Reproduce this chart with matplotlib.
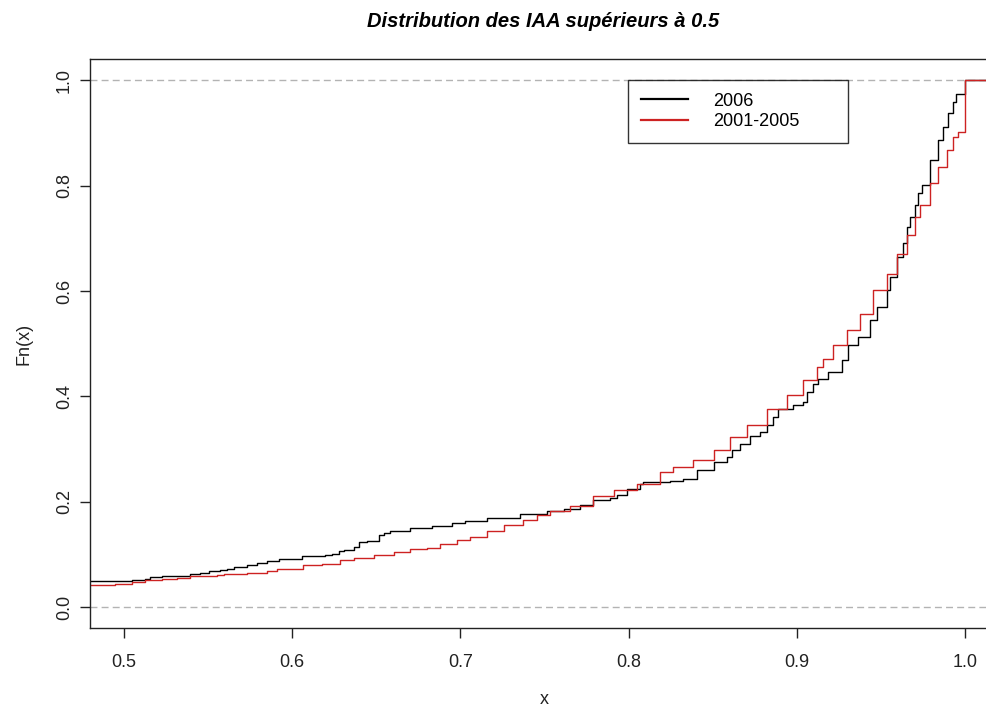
import matplotlib.pyplot as plt

plt.rcParams['font.family'] = ['Liberation Sans', 'DejaVu Sans']

# ECDF breakpoints: x where Fn jumps, Fn value after the jump
x_2006 = [0.48, 0.505, 0.508, 0.5129, 0.5154, 0.5228, 0.5396, 0.5455, 0.5505, 0.5574,
          0.5614, 0.5653, 0.5733, 0.5792, 0.5852, 0.592, 0.6059, 0.6198, 0.6238, 0.6277,
          0.6306, 0.637, 0.6396, 0.6445, 0.6514, 0.6544, 0.6584, 0.6624, 0.6702, 0.6831,
          0.695, 0.7029, 0.7158, 0.7356, 0.7514, 0.7613, 0.7712, 0.7791, 0.789, 0.793,
          0.7989, 0.8068, 0.8088, 0.8246, 0.8325, 0.8405, 0.8504, 0.8583, 0.8613, 0.8662,
          0.8722, 0.8781, 0.8821, 0.886, 0.889, 0.8979, 0.9038, 0.9058, 0.9097, 0.9127,
          0.9185, 0.9266, 0.9305, 0.9365, 0.9434, 0.9474, 0.9533, 0.9553, 0.9593, 0.9632,
          0.9652, 0.9672, 0.9701, 0.9721, 0.9741, 0.979, 0.984, 0.9869, 0.9899, 0.9929,
          0.9945, 1.0, 1.02]
F_2006 = [0.0494, 0.0507, 0.052, 0.0539, 0.057, 0.0596, 0.0621, 0.0646, 0.0678, 0.0697,
          0.0716, 0.0759, 0.0792, 0.0835, 0.0873, 0.091, 0.0963, 0.0982, 0.1014, 0.1063,
          0.109, 0.1139, 0.1234, 0.1253, 0.1361, 0.1413, 0.1437, 0.1451, 0.1508, 0.1532,
          0.1602, 0.1627, 0.1697, 0.176, 0.1823, 0.1868, 0.1931, 0.2026, 0.2077, 0.2134,
          0.2248, 0.233, 0.2373, 0.2387, 0.2438, 0.2595, 0.2753, 0.2848, 0.2975, 0.3102,
          0.3241, 0.3323, 0.345, 0.3607, 0.3767, 0.383, 0.3892, 0.4082, 0.4242, 0.4323,
          0.4456, 0.4684, 0.4969, 0.5126, 0.5443, 0.5696, 0.6013, 0.6265, 0.6645, 0.69,
          0.7215, 0.7405, 0.7627, 0.7849, 0.8006, 0.8481, 0.8861, 0.9113, 0.9368, 0.9588,
          0.9734, 1.0, 1.0]

x_0105 = [0.48, 0.4951, 0.505, 0.5129, 0.5228, 0.5317, 0.5396, 0.5555, 0.5594, 0.5733,
          0.5852, 0.5911, 0.6065, 0.6178, 0.6287, 0.6366, 0.6485, 0.6603, 0.6702, 0.6802,
          0.6881, 0.698, 0.7059, 0.7158, 0.7257, 0.7375, 0.7455, 0.7534, 0.7653, 0.7791,
          0.791, 0.8049, 0.8187, 0.8266, 0.8385, 0.8504, 0.8603, 0.8702, 0.8821, 0.8939,
          0.9038, 0.9118, 0.9157, 0.9216, 0.9296, 0.9375, 0.9454, 0.9533, 0.9593, 0.9652,
          0.9701, 0.9731, 0.979, 0.984, 0.989, 0.9929, 0.9958, 1.0, 1.02]
F_0105 = [0.0425, 0.0444, 0.0475, 0.0507, 0.0539, 0.0558, 0.0583, 0.0602, 0.0621, 0.0646,
          0.0678, 0.0716, 0.0792, 0.0824, 0.09, 0.0938, 0.0982, 0.1044, 0.1096, 0.1128,
          0.119, 0.1266, 0.1329, 0.1443, 0.1551, 0.1646, 0.1741, 0.1823, 0.1912, 0.2102,
          0.2216, 0.2343, 0.2563, 0.2658, 0.2799, 0.2975, 0.3228, 0.345, 0.3767, 0.4019,
          0.4304, 0.4557, 0.4716, 0.4969, 0.5253, 0.557, 0.6013, 0.633, 0.671, 0.7057,
          0.7405, 0.7627, 0.8039, 0.8354, 0.8671, 0.8924, 0.9018, 1.0, 1.0]

labels = ['2006', '2001-2005']
colors = ['black', '#CD2222']

fig = plt.figure(figsize=(9.87, 7.10), dpi=100)
# right part of the R plot region is cut off by the image edge
ax = fig.add_axes([0.09119, 0.11507, 0.92097, 0.80183])

ax.axhline(0, color='#B3B3B3', ls=(0, (5, 3)), lw=1)
ax.axhline(1, color='#B3B3B3', ls=(0, (5, 3)), lw=1)

ax.step(x_2006, F_2006, where='post', color=colors[0], lw=1.0, label=labels[0])
ax.step(x_0105, F_0105, where='post', color=colors[1], lw=1.0, label=labels[1])

ax.set_xlim(0.48, 1.02)
ax.set_ylim(-0.04, 1.04)
ax.set_xticks([0.5, 0.6, 0.7, 0.8, 0.9, 1.0])
ax.set_xticklabels(['0.5', '0.6', '0.7', '0.8', '0.9', '1.0'])
ax.set_yticks([0.0, 0.2, 0.4, 0.6, 0.8, 1.0])
ax.set_yticklabels(['0.0', '0.2', '0.4', '0.6', '0.8', '1.0'], rotation=90, va='center')
ax.tick_params(direction='out', length=7.2, width=1, labelsize=13, colors='#222222')
ax.tick_params(axis='x', pad=11.5)
ax.tick_params(axis='y', pad=5)
for s in ax.spines.values():
    s.set_linewidth(1)
    s.set_color('#222222')
ax.spines['right'].set_visible(False)

ax.set_xlabel('x', fontsize=13, labelpad=14.5, color='#222222')
ax.set_ylabel('Fn(x)', fontsize=13, labelpad=17, color='#222222')
fig.suptitle('Distribution des IAA supérieurs à 0.5', x=0.55, y=0.983,
             fontsize=14.5, fontstyle='italic', fontweight='bold')

leg = ax.legend(loc='upper left', bbox_to_anchor=(0.5919, 0.9631, 0.242, 0), mode='expand',
                fontsize=13, frameon=True, fancybox=False, edgecolor='black',
                handlelength=2.6, borderpad=0.7, labelspacing=0.2, handletextpad=1.4,
                borderaxespad=0)
leg.get_frame().set_linewidth(1)
for l in leg.get_lines():
    l.set_linewidth(1.6)

fig.savefig('out.png', dpi=100)
